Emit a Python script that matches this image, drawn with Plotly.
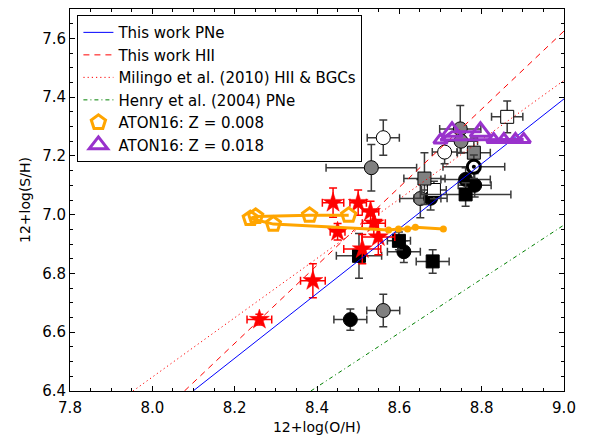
import plotly.graph_objects as go

# ---------------- data ----------------
# PNe (this work) - filled black circles
pne_black_circ_x = [8.611, 8.481, 8.761, 8.783, 8.676]
pne_black_circ_y = [6.874, 6.643, 7.120, 7.100, 7.056]
pne_black_circ_ex = [0.04, 0.04, 0.06, 0.04, 0.04]
pne_black_circ_ey = [0.037, 0.036, 0.04, 0.04, 0.04]

# gray circles
pne_gray_circ_x = [8.532, 8.748, 8.750, 8.651, 8.561]
pne_gray_circ_y = [7.160, 7.292, 7.250, 7.055, 6.674]
pne_gray_circ_ex = [0.11, 0.05, 0.04, 0.05, 0.04]
pne_gray_circ_ey = [0.079, 0.08, 0.04, 0.065, 0.055]

# white circles
pne_white_circ_x = [8.561, 8.710]
pne_white_circ_y = [7.262, 7.213]
pne_white_circ_ex = [0.039, 0.03]
pne_white_circ_ey = [0.06, 0.04]

# black squares
pne_black_sq_x = [8.599, 8.502, 8.681, 8.761]
pne_black_sq_y = [6.911, 6.860, 6.841, 7.069]
pne_black_sq_ex = [0.028, 0.055, 0.04, 0.11]
pne_black_sq_ey = [0.03, 0.076, 0.04, 0.04]

# gray squares
pne_gray_sq_x = [8.661, 8.781]
pne_gray_sq_y = [7.123, 7.211]
pne_gray_sq_ex = [0.05, 0.04]
pne_gray_sq_ey = [0.088, 0.05]

# white squares
pne_white_sq_x = [8.862, 8.684]
pne_white_sq_y = [7.333, 7.084]
pne_white_sq_ex = [0.038, 0.03]
pne_white_sq_ey = [0.054, 0.03]

# bullseye symbol
pne_bull_x = [8.781]
pne_bull_y = [7.163]
pne_bull_ex = [0.075]
pne_bull_ey = [0.04]

# HII regions (this work) - red stars
hii_x = [8.439, 8.500, 8.530, 8.538, 8.450, 8.549, 8.510, 8.390, 8.260]
hii_y = [7.041, 7.041, 7.010, 6.971, 6.942, 6.924, 6.883, 6.775, 6.643]
hii_ex = [0.026, 0.02, 0.02, 0.028, 0.018, 0.04, 0.045, 0.03, 0.03]
hii_ey = [0.05, 0.043, 0.036, 0.04, 0.028, 0.06, 0.05, 0.058, 0.018]

# relations (end points read at the frame)
pne_fit_x = [8.099, 9.0]
pne_fit_y = [6.4, 7.394]
hii_fit_x = [8.078, 9.0]
hii_fit_y = [6.4, 7.625]
milingo_x = [7.953, 9.0]
milingo_y = [6.4, 7.457]
henry_x = [8.385, 9.0]
henry_y = [6.4, 6.965]

# ATON16 Z = 0.008 track
aton008_big_x = [8.477, 8.382, 8.251, 8.238, 8.294]
aton008_big_y = [6.998, 6.998, 6.994, 6.987, 6.968]
aton008_small_x = [8.574, 8.598, 8.620, 8.639, 8.707]
aton008_small_y = [6.948, 6.951, 6.951, 6.957, 6.951]

# ATON16 Z = 0.018 track
aton018_big_x = [8.797, 8.728]
aton018_big_y = [7.282, 7.282]
aton018_small_x = [8.700, 8.829, 8.854, 8.882, 8.902]
aton018_small_y = [7.254, 7.256, 7.256, 7.256, 7.256]

x_ticks = [7.8, 8.0, 8.2, 8.4, 8.6, 8.8, 9.0]
y_ticks = [6.4, 6.6, 6.8, 7.0, 7.2, 7.4, 7.6]

# ---------------- figure ----------------
FONT = "DejaVu Sans"
ERRC = "#3a3a3a"
fig = go.Figure()


def pne(x, y, ex, ey, symbol, fill, size):
    fig.add_trace(go.Scatter(
        x=x, y=y, mode="markers", showlegend=False,
        marker=dict(symbol=symbol, size=size, color=fill,
                    line=dict(color="black", width=1)),
        error_x=dict(type="data", array=ex, color=ERRC, thickness=1.5, width=4),
        error_y=dict(type="data", array=ey, color=ERRC, thickness=1.5, width=4),
    ))


pne(pne_gray_circ_x, pne_gray_circ_y, pne_gray_circ_ex, pne_gray_circ_ey, "circle", "#808080", 14)
pne(pne_white_circ_x, pne_white_circ_y, pne_white_circ_ex, pne_white_circ_ey, "circle", "white", 14)
pne(pne_black_circ_x, pne_black_circ_y, pne_black_circ_ex, pne_black_circ_ey, "circle", "black", 14)
pne(pne_white_sq_x, pne_white_sq_y, pne_white_sq_ex, pne_white_sq_ey, "square", "white", 13)
pne(pne_gray_sq_x, pne_gray_sq_y, pne_gray_sq_ex, pne_gray_sq_ey, "square", "#808080", 13)
pne(pne_black_sq_x, pne_black_sq_y, pne_black_sq_ex, pne_black_sq_ey, "square", "black", 13)
pne(pne_bull_x, pne_bull_y, pne_bull_ex, pne_bull_ey, "circle", "white", 13)
fig.data[-1].marker.line.width = 3
fig.add_trace(go.Scatter(x=pne_bull_x, y=pne_bull_y, mode="markers", showlegend=False,
                         marker=dict(symbol="circle", size=4, color="black")))

fig.add_trace(go.Scatter(
    x=hii_x, y=hii_y, mode="markers", showlegend=False,
    marker=dict(symbol="star", size=15, color="#ff0000", line=dict(color="#ff0000", width=0.5)),
    error_x=dict(type="data", array=hii_ex, color="#ff0000", thickness=1.5, width=4),
    error_y=dict(type="data", array=hii_ey, color="#ff0000", thickness=1.5, width=4),
))

fig.add_trace(go.Scatter(x=pne_fit_x, y=pne_fit_y, mode="lines", name="This work PNe",
                         line=dict(color="#0000ff", width=1), legendrank=1))
fig.add_trace(go.Scatter(x=hii_fit_x, y=hii_fit_y, mode="lines", name="This work HII",
                         line=dict(color="#ff0000", width=1, dash="6px,5px"), legendrank=2))
fig.add_trace(go.Scatter(x=milingo_x, y=milingo_y, mode="lines",
                         name="Milingo et al. (2010) HII & BGCs",
                         line=dict(color="#ff0000", width=1, dash="1.2px,3px"), legendrank=3))
fig.add_trace(go.Scatter(x=henry_x, y=henry_y, mode="lines", name="Henry et al. (2004) PNe",
                         line=dict(color="#008000", width=1, dash="4px,3px,1px,3px"), legendrank=4))

ORANGE = "#ffa500"
PURPLE = "#9932cc"

# Z = 0.008 track
fig.add_trace(go.Scatter(x=aton008_big_x + aton008_small_x, y=aton008_big_y + aton008_small_y,
                         mode="lines", showlegend=False, line=dict(color=ORANGE, width=3)))
fig.add_trace(go.Scatter(x=aton008_small_x, y=aton008_small_y, mode="markers", showlegend=False,
                         marker=dict(symbol="circle", size=7, color=ORANGE)))
fig.add_trace(go.Scatter(x=aton008_big_x, y=aton008_big_y, mode="markers", name="ATON16: Z = 0.008",
                         marker=dict(symbol="pentagon-open", size=15, color=ORANGE,
                                     line=dict(color=ORANGE, width=3)), legendrank=5))

# Z = 0.018 track
fig.add_trace(go.Scatter(x=aton018_big_x + aton018_small_x, y=aton018_big_y + aton018_small_y,
                         mode="lines", showlegend=False, line=dict(color=PURPLE, width=3)))
fig.add_trace(go.Scatter(x=aton018_small_x, y=aton018_small_y, mode="markers", showlegend=False,
                         marker=dict(symbol="triangle-up-open", size=12, color=PURPLE,
                                     line=dict(color=PURPLE, width=3))))
fig.add_trace(go.Scatter(x=aton018_big_x, y=aton018_big_y, mode="markers", name="ATON16: Z = 0.018",
                         marker=dict(symbol="triangle-up-open", size=18, color=PURPLE,
                                     line=dict(color=PURPLE, width=3)), legendrank=6))

axis_common = dict(
    showgrid=False, zeroline=False, showline=True, linecolor="black", linewidth=1,
    mirror="ticks", ticks="inside", ticklen=5, tickwidth=1, tickcolor="black",
    tickfont=dict(family=FONT, size=15, color="black"), automargin=False,
    minor=dict(ticks="inside", ticklen=3, tickwidth=1, tickcolor="black", dtick=0.05, showgrid=False),
)

fig.update_xaxes(range=[7.8, 9.0], tickvals=x_ticks, ticktext=[f"{v:.1f}" for v in x_ticks],
                 ticklabelstandoff=3,
                 title=dict(text="12+log(O/H)", font=dict(family=FONT, size=14, color="black"), standoff=8),
                 **axis_common)
fig.update_yaxes(range=[6.4, 7.7], tickvals=y_ticks, ticktext=[f"{v:.1f}" for v in y_ticks],
                 title=dict(text="12+log(S/H)", font=dict(family=FONT, size=14, color="black"), standoff=8),
                 **axis_common)

fig.update_layout(
    width=592, height=435,
    margin=dict(l=70, r=28, t=9, b=44),
    paper_bgcolor="white", plot_bgcolor="white",
    font=dict(family=FONT, color="black"),
    legend=dict(x=0.015, y=0.984, xanchor="left", yanchor="top",
                bgcolor="white", bordercolor="black", borderwidth=1,
                font=dict(family=FONT, size=15, color="black"),
                tracegroupgap=0, itemwidth=30),
)

fig.write_html("out.html")
